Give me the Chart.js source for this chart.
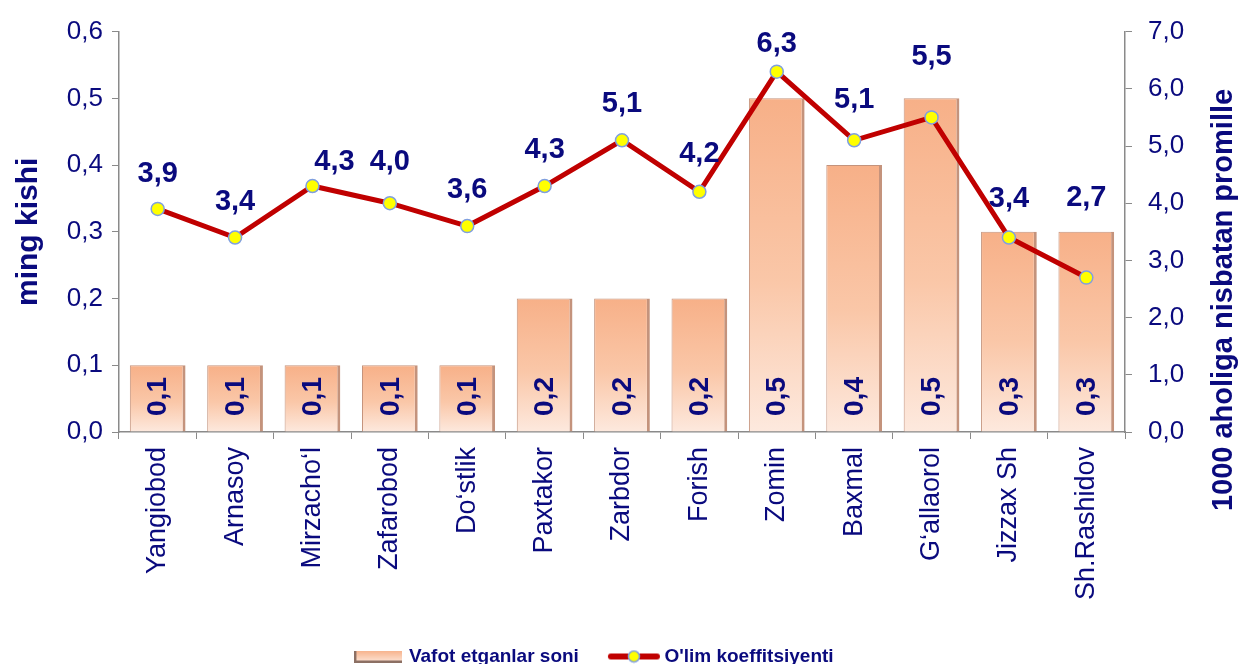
<!DOCTYPE html>
<html>
<head>
<meta charset="utf-8">
<script src="https://cdn.jsdelivr.net/npm/chart.js@4.4.1/dist/chart.umd.min.js"></script>
<style>
html,body{margin:0;padding:0;background:#fff;}
#wrap{width:1239px;height:664px;position:relative;}
</style>
</head>
<body>
<div id="wrap"><canvas id="c"></canvas></div>
<script>
const categories = ['Yangiobod','Arnasoy','Mirzacho‘l','Zafarobod','Do‘stlik','Paxtakor','Zarbdor','Forish','Zomin','Baxmal','G‘allaorol','Jizzax Sh','Sh.Rashidov'];
const deaths = [0.1,0.1,0.1,0.1,0.1,0.2,0.2,0.2,0.5,0.4,0.5,0.3,0.3];
const mortality = [3.9,3.4,4.3,4.0,3.6,4.3,5.1,4.2,6.3,5.1,5.5,3.4,2.7];
const seriesNames = ['Vafot etganlar soni', "O'lim koeffitsiyenti"];
const leftTitle = 'ming kishi';
const rightTitle = '1000 aholiga nisbatan promille';

const NAVY = '#0a0a7e';
const AXIS = '#8a8a8a';
const fmt1 = v => Number(v).toFixed(1).replace('.', ',');

function barSwatch(){
  const c = document.createElement('canvas'); c.width = 48; c.height = 12;
  const g = c.getContext('2d');
  const gr = g.createLinearGradient(0,0,0,12);
  gr.addColorStop(0,'#f7b28a'); gr.addColorStop(1,'#fde6d8');
  g.fillStyle = gr; g.fillRect(0,0,48,12);
  g.fillStyle = '#8c7064'; g.fillRect(0,10,48,2); g.fillRect(0,0,2,12);
  return c;
}
function lineSwatch(){
  const c = document.createElement('canvas'); c.width = 54; c.height = 14;
  const g = c.getContext('2d');
  g.strokeStyle = '#c00000'; g.lineWidth = 6; g.lineCap = 'round';
  g.beginPath(); g.moveTo(4,7); g.lineTo(50,7); g.stroke();
  g.fillStyle = '#ffff00'; g.strokeStyle = '#7f9fdf'; g.lineWidth = 1.5;
  g.beginPath(); g.arc(27,7,5.5,0,Math.PI*2); g.fill(); g.stroke();
  return c;
}

const labelPlugin = {
  id: 'valueLabels',
  afterDatasetsDraw(chart, args, opts) {
    const ctx = chart.ctx;
    const bm = chart.getDatasetMeta(0);
    ctx.save();
    ctx.fillStyle = NAVY;
    ctx.font = 'bold 28px "Liberation Sans", Arial, sans-serif';
    ctx.textAlign = 'center'; ctx.textBaseline = 'middle';
    bm.data.forEach((el, i) => {
      ctx.save();
      ctx.translate(el.x, el.base - 35);
      ctx.rotate(-Math.PI/2);
      ctx.fillText(fmt1(deaths[i]), 0, 1);
      ctx.restore();
    });
    const lm = chart.getDatasetMeta(1);
    ctx.font = 'bold 29px "Liberation Sans", Arial, sans-serif';
    lm.data.forEach((el, i) => {
      const off = opts.offsets[i], dx = opts.dx[i];
      ctx.fillText(fmt1(mortality[i]), el.x + dx, el.y - off);
    });
    ctx.restore();
  },
  afterDraw(chart) {
    const ctx = chart.ctx;
    ctx.save();
    ctx.fillStyle = NAVY;
    ctx.font = 'bold 29px "Liberation Sans", Arial, sans-serif';
    ctx.textAlign = 'center'; ctx.textBaseline = 'middle';
    ctx.translate(1224, 300);
    ctx.rotate(-Math.PI/2);
    ctx.fillText(rightTitle, 0, 0);
    ctx.restore();
  }
};

const bs = barSwatch(), ls = lineSwatch();

new Chart(document.getElementById('c'), {
  type: 'bar',
  data: {
    labels: categories,
    datasets: [
      {
        label: seriesNames[0],
        data: deaths,
        yAxisID: 'y',
        order: 1,
        categoryPercentage: 1,
        barPercentage: 0.72,
        backgroundColor: (c) => {
          const chart = c.chart;
          if (!chart.chartArea || c.type !== 'data') return '#fbc7a6';
          const ys = chart.scales.y;
          const top = ys.getPixelForValue(c.raw), base = ys.getPixelForValue(0);
          const g = chart.ctx.createLinearGradient(0, top, 0, base);
          g.addColorStop(0, '#f7b088');
          g.addColorStop(0.55, '#fac7a8');
          g.addColorStop(1, '#fde9de');
          return g;
        },
        borderColor: '#c4937c',
        borderWidth: {top: 1, left: 1, right: 3, bottom: 0},
        borderSkipped: 'start'
      },
      {
        type: 'line',
        label: seriesNames[1],
        data: mortality,
        yAxisID: 'y1',
        order: 0,
        borderColor: '#c00000',
        borderWidth: 5,
        tension: 0,
        pointRadius: 6.5,
        pointBackgroundColor: '#ffff00',
        pointBorderColor: '#7f9fdf',
        pointBorderWidth: 1.5
      }
    ]
  },
  options: {
    responsive: true,
    maintainAspectRatio: false,
    animation: false,
    layout: { padding: { top: 29, left: 0, right: 48, bottom: -12 } },
    scales: {
      x: {
        grid: { display: true, drawOnChartArea: false, drawTicks: true, tickLength: 7, color: AXIS, offset: true },
        border: { color: AXIS, width: 1.5 },
        ticks: {
          color: NAVY, autoSkip: false, minRotation: 90, maxRotation: 90, padding: 8,
          font: { size: 27, family: '"Liberation Sans", Arial, sans-serif' }
        },
        afterFit: (s) => { s.height = 181; }
      },
      y: {
        position: 'left',
        min: 0, max: 0.6,
        grid: { display: true, drawOnChartArea: false, drawTicks: true, tickLength: 7, color: AXIS },
        border: { color: AXIS, width: 1.5 },
        ticks: {
          stepSize: 0.1, color: NAVY, padding: 9,
          font: { size: 26, family: '"Liberation Sans", Arial, sans-serif' },
          callback: v => fmt1(v)
        },
        title: {
          display: true, text: leftTitle, color: NAVY,
          font: { size: 30, weight: 'bold', family: '"Liberation Sans", Arial, sans-serif' },
          padding: { top: 11, bottom: 0 }
        },
        afterFit: (s) => { s.width = 119; }
      },
      y1: {
        position: 'right',
        min: 0, max: 7,
        grid: { display: true, drawOnChartArea: false, drawTicks: true, tickLength: 7, color: AXIS },
        border: { color: AXIS, width: 1.5 },
        ticks: {
          stepSize: 1, color: NAVY, padding: 16,
          font: { size: 26, family: '"Liberation Sans", Arial, sans-serif' },
          callback: v => fmt1(v)
        },
        afterFit: (s) => { s.width = 66; }
      }
    },
    plugins: {
      tooltip: { enabled: false },
      legend: {
        display: true,
        position: 'bottom',
        labels: {
          color: NAVY,
          font: { size: 19, weight: 'bold', family: '"Liberation Sans", Arial, sans-serif' },
          usePointStyle: true,
          pointStyleWidth: 42,
          padding: 34,
          generateLabels: (chart) => {
            const items = Chart.defaults.plugins.legend.labels.generateLabels(chart);
            items.sort((a, b) => a.datasetIndex - b.datasetIndex);
            items.forEach(it => { it.pointStyle = it.datasetIndex === 0 ? bs : ls; it.fontColor = NAVY; });
            return items;
          }
        }
      },
      valueLabels: {
        offsets: [35, 36, 24, 41, 36, 36, 36, 38, 28, 40, 60, 39, 80],
        dx: [0, 0, 22, 0, 0, 0, 0, 0, 0, 0, 0, 0, 0]
      }
    }
  },
  plugins: [labelPlugin]
});
</script>
</body>
</html>
